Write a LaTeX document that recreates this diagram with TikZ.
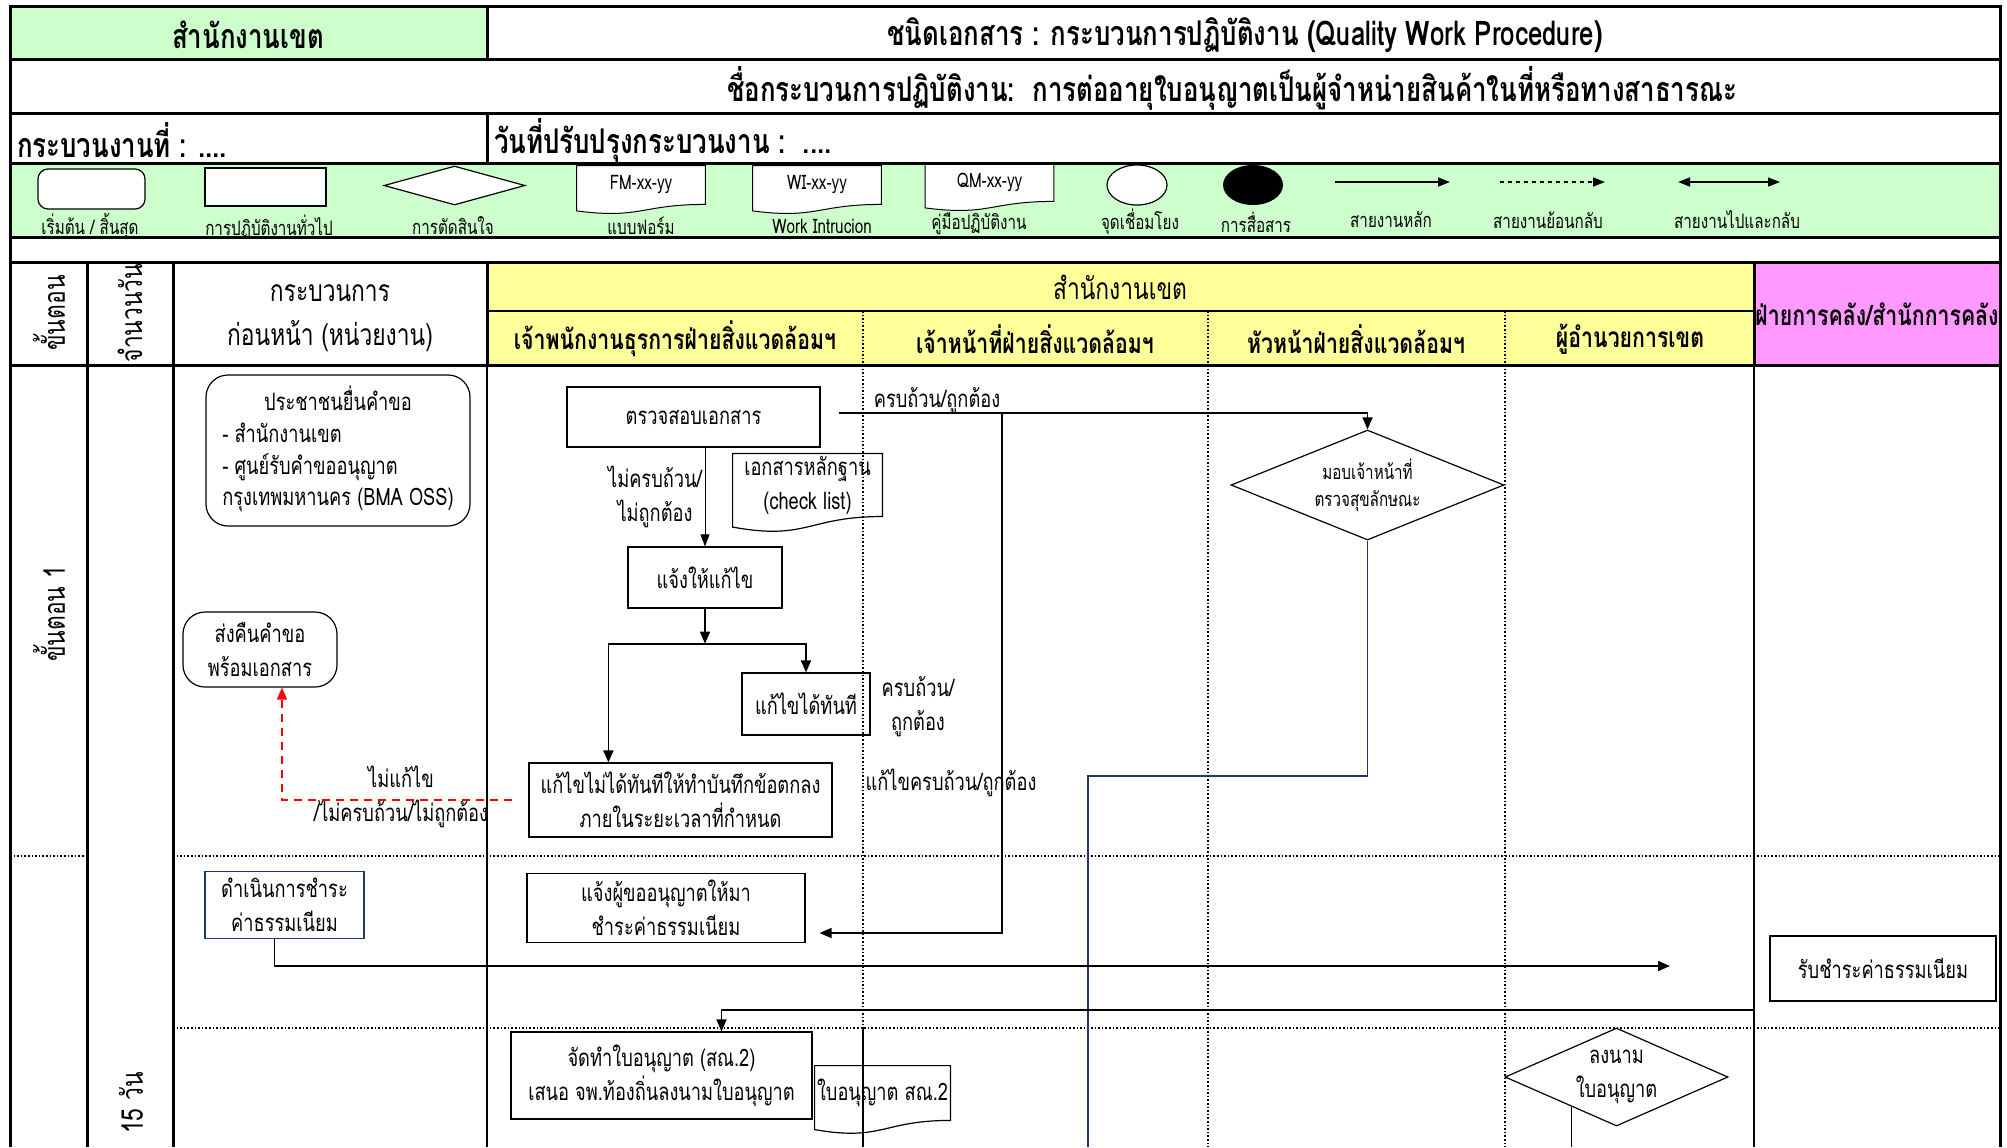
\documentclass[tikz,border=0pt]{standalone}
\usepackage{fontspec}
\setmainfont[Script=Thai,FakeStretch=0.76]{Loma}
\usetikzlibrary{arrows.meta,calc,backgrounds,shapes.geometric,positioning}

\definecolor{legendgreen}{RGB}{204,255,204}
\definecolor{headyellow}{RGB}{255,255,153}
\definecolor{headpink}{RGB}{255,153,255}
\definecolor{navyline}{RGB}{31,56,100}

\begin{document}
\begin{tikzpicture}[
    x=0.5pt, y=-0.5pt,
    frame/.style={line width=1.5pt},
    midrule/.style={line width=1pt},
    thinrule/.style={line width=0.6pt},
    dotrule/.style={line width=0.8pt, densely dotted},
    titlefont/.style={font=\fontsize{17}{21}\selectfont\bfseries},
    headtext/.style={font=\fontsize{15}{22}\selectfont, align=center},
    subhead/.style={font=\fontsize{14}{18}\selectfont\bfseries},
    legendtext/.style={font=\fontsize{10}{12}\selectfont},
    box/.style={rectangle, draw, line width=0.6pt, align=center, font=\fontsize{12}{17}\selectfont},
    startbox/.style={box, rounded corners=11pt},
    decision/.style={diamond, draw, line width=0.6pt, align=center, inner sep=0pt, shape aspect=2.4, font=\fontsize{10}{13.5}\selectfont},
    docbox/.style={rectangle, align=center, inner sep=1pt, font=\fontsize{12}{17}\selectfont},
    note/.style={align=center, font=\fontsize{12}{17}\selectfont},
    arrow/.style={-{Triangle[length=6pt,width=5pt]}, line width=0.9pt},
    thinarrow/.style={-{Triangle[length=6pt,width=4.5pt]}, line width=0.5pt},
    backarrow/.style={-{Triangle[length=6pt,width=5pt]}, line width=0.8pt, red, dash pattern=on 4pt off 3pt},
    navy/.style={draw=navyline, line width=0.7pt}
]
\useasboundingbox (0,0) rectangle (2007,1147);

% fills
\begin{scope}[on background layer]
    \fill[legendgreen] (10,6) rectangle (487,59);
    \fill[legendgreen] (10,163) rectangle (2000,237);
    \fill[headyellow] (487,262) rectangle (1754,365);
    \fill[headpink] (1754,262) rectangle (2000,365);
\end{scope}

% header rows
\draw[frame] (10,1147) -- (10,6) -- (2000,6) -- (2000,1147);
\foreach \y in {59,113,163,237,262,365}
    \draw[frame] (10,\y) -- (2000,\y);
\draw[frame] (487,6) -- (487,59);
\draw[frame] (487,113) -- (487,163);

\node[titlefont] (office) at (248,35) {สำนักงานเขต};
\node[titlefont] (doctype) at (1245,35) {ชนิดเอกสาร : กระบวนการปฏิบัติงาน (Quality Work Procedure)};
\node[titlefont] (procname) at (1232,88) {ชื่อกระบวนการปฏิบัติงาน:\ \ การต่ออายุใบอนุญาตเป็นผู้จำหน่ายสินค้าในที่หรือทางสาธารณะ};
\node[titlefont, anchor=west] (procno) at (10,140) {กระบวนงานที่ : ....};
\node[titlefont, anchor=west] (revdate) at (487,140) {วันที่ปรับปรุงกระบวนงาน :\ \ ....};

% legend
\node[box, fill=white, rounded corners=5pt, minimum width=53.5pt, minimum height=20pt] (lgstart) at (91.5,189) {};
\node[box, fill=white, minimum width=60.5pt, minimum height=19pt] (lgproc) at (265.5,187) {};
\node[decision, fill=white, minimum width=70.5pt, minimum height=19.5pt] (lgdec) at (454.5,185.5) {};
\node[docbox, minimum width=64pt, minimum height=19pt, font=\fontsize{10}{12}\selectfont] (fm) at (641,185) {FM-xx-yy};
\node[docbox, minimum width=64pt, minimum height=19pt, font=\fontsize{10}{12}\selectfont] (wi) at (817,185) {WI-xx-yy};
\node[docbox, minimum width=64pt, minimum height=19pt, font=\fontsize{10}{12}\selectfont] (qm) at (989.5,182) {QM-xx-yy};
\node[ellipse, draw, fill=white, line width=0.6pt, minimum width=30pt, minimum height=20pt] (lglink) at (1137,185) {};
\node[ellipse, fill=black, minimum width=30pt, minimum height=20pt] (lgcomm) at (1253,185) {};
\coordinate (lga1) at (1335,182);
\coordinate (lga2) at (1450,182);
\coordinate (lgb1) at (1500,182);
\coordinate (lgb2) at (1605,182);
\coordinate (lgc1) at (1678,182);
\coordinate (lgc2) at (1780,182);
\draw[thinarrow, line width=0.8pt] (lga1) -- (lga2);
\draw[thinarrow, line width=0.8pt, dash pattern=on 2pt off 2pt] (lgb1) -- (lgb2);
\draw[{Triangle[length=6pt,width=4.5pt]}-{Triangle[length=6pt,width=4.5pt]}, line width=0.8pt] (lgc1) -- (lgc2);
\foreach \x/\y/\t [count=\i] in {90/227/{เริ่มต้น / สิ้นสุด}, 269/227/การปฏิบัติงานทั่วไป, 453/226/การตัดสินใจ,
    641/226/แบบฟอร์ม, 822/226/Work Intrucion, 979/224/คู่มือปฏิบัติงาน, 1140/222/จุดเชื่อมโยง,
    1256/222/การสื่อสาร, 1391/220/สายงานหลัก, 1548/220/สายงานย้อนกลับ, 1737/220/สายงานไปและกลับ}
    \node[legendtext] (lbl\i) at (\x,\y) {\t};

% table head
\draw[frame] (87,262) -- (87,1147);
\draw[frame] (173,262) -- (173,1147);
\draw[frame] (487,262) -- (487,365);
\draw[thinrule] (487,365) -- (487,1147);
\draw[frame] (1754,262) -- (1754,365);
\draw[midrule] (1754,365) -- (1754,1147);
\draw[thinrule] (487,311) -- (1754,311);
\draw[dotrule] (863,311) -- (863,1028);
\draw[thinrule] (863,1028) -- (863,1147);
\foreach \x in {1208,1505}
    \draw[dotrule] (\x,311) -- (\x,1147);
\draw[dotrule] (10,856) -- (87,856);
\draw[dotrule] (173,856) -- (2000,856);
\draw[dotrule] (173,1028) -- (2000,1028);

\node[headtext, rotate=90] (stephead) at (49,313) {ขั้นตอน};
\node[headtext, rotate=90] (dayhead) at (130,313) {จำนวนวัน};
\node[headtext] (prevhead) at (330,318) {กระบวนการ\\ก่อนหน้า (หน่วยงาน)};
\node[headtext] (zonehead) at (1120,287) {สำนักงานเขต};
\node[subhead] (lane1) at (675,339) {เจ้าพนักงานธุรการฝ่ายสิ่งแวดล้อมฯ};
\node[subhead] (lane2) at (1035,339) {เจ้าหน้าที่ฝ่ายสิ่งแวดล้อมฯ};
\node[subhead] (lane3) at (1356,339) {หัวหน้าฝ่ายสิ่งแวดล้อมฯ};
\node[subhead] (lane4) at (1630,339) {ผู้อำนวยการเขต};
\node[subhead] (finhead) at (1877,314) {ฝ่ายการคลัง/สำนักการคลัง};

\node[headtext, rotate=90] (step1) at (49,614) {ขั้นตอน 1};
\node[headtext, rotate=90] (days) at (131,1103) {15 วัน};

% step 1
\node[startbox, minimum width=132pt, minimum height=75.5pt] (applicant) at (338,450.5)
    {\renewcommand{\arraystretch}{0.94}\begin{tabular}{@{}l@{}}\multicolumn{1}{@{}c@{}}{ประชาชนยื่นคำขอ}\\- สำนักงานเขต\\- ศูนย์รับคำขออนุญาต\\กรุงเทพมหานคร (BMA OSS)\end{tabular}};
\node[startbox, minimum width=77pt, minimum height=37.5pt] (back) at (260,649.5) {ส่งคืนคำขอ\\พร้อมเอกสาร};
\node[box, minimum width=126.5pt, minimum height=30pt] (check) at (693.5,417) {ตรวจสอบเอกสาร};
\node[docbox, minimum width=74.5pt, minimum height=31pt] (chk) at (807.5,485) {เอกสารหลักฐาน\\(check list)};
\node[box, minimum width=77pt, minimum height=30.5pt] (notify) at (705,577.5) {แจ้งให้แก้ไข};
\node[box, minimum width=64pt, minimum height=31pt] (fixnow) at (806,704) {แก้ไขได้ทันที};
\node[box, minimum width=151.5pt, minimum height=37pt] (memo) at (680.5,800) {แก้ไขไม่ได้ทันทีให้ทำบันทึกข้อตกลง\\ภายในระยะเวลาที่กำหนด};
\node[decision, minimum width=136.5pt, minimum height=55pt] (assign) at (1367.5,485) {มอบเจ้าหน้าที่\\ตรวจสุขลักษณะ};

\node[note] (notok) at (655,497) {ไม่ครบถ้วน/\\ไม่ถูกต้อง};
\node[note] (okcheck) at (937,401) {ครบถ้วน/ถูกต้อง};
\node[note] (okfix) at (918,707) {ครบถ้วน/\\ถูกต้อง};
\node[note] (okmemo) at (951,783) {แก้ไขครบถ้วน/ถูกต้อง};
\node[note] (nofix) at (401,797) {ไม่แก้ไข\\/ไม่ครบถ้วน/ไม่ถูกต้อง};

\coordinate (split) at ($(notify.south)+(0,35)$);
\coordinate (okjoin) at (1002,413);
\coordinate (navybend) at (1088,776);
\coordinate (navyend) at (1088,1147);

\draw[thinarrow] (check.south -| notify.north) -- (notify.north);
\draw[arrow] (notify.south) -- (split);
\draw[arrow] (split) -| (fixnow.north);
\draw[arrow] (split) -| ([xshift=40pt]memo.north west);
\draw[backarrow] ([xshift=-8pt]memo.west) -| ([xshift=11pt]back.south);
\draw[arrow] ([xshift=9pt,yshift=2pt]check.east) -| (assign.north);
\draw[navy] (assign.south) |- (navybend) -- (navyend);

% step 2
\node[box, draw=navyline, minimum width=79.5pt, minimum height=28pt] (pay) at (284.5,905) {ดำเนินการชำระ\\ค่าธรรมเนียม};
\node[box, minimum width=139pt, minimum height=34pt] (inform) at (666,908) {แจ้งผู้ขออนุญาตให้มา\\ชำระค่าธรรมเนียม};
\node[box, minimum width=113pt, minimum height=32.5pt] (receive) at (1883,968.5) {รับชำระค่าธรรมเนียม};

\coordinate (payend) at (1670,966);
\coordinate (recvout) at (1754,998);

\draw[arrow] (okjoin) |- ([xshift=7pt,yshift=-12.5pt]inform.east);
\draw[arrow] ([xshift=-5pt]pay.south) |- (payend);

% step 3
\node[box, minimum width=150.5pt, minimum height=43.5pt] (license) at (661.5,1075.5) {จัดทำใบอนุญาต (สณ.2)\\เสนอ จพ.ท้องถิ่นลงนามใบอนุญาต};
\node[docbox, minimum width=67.5pt, minimum height=27pt] (lic) at (882.5,1093) {ใบอนุญาต สณ.2};
\node[decision, font=\fontsize{12}{17}\selectfont, minimum width=111.5pt, minimum height=49pt] (sign) at (1616.5,1077) {ลงนาม\\ใบอนุญาต};

\draw[arrow] (recvout) -- ++(0,12) -| ([xshift=30pt]license.north);
\path ($(sign.south west)!0.2!(sign.south)$) coordinate (signfoot);
\draw[thinrule] (signfoot) -- (signfoot |- navyend);

% document outlines
\begin{scope}[on background layer]
    \foreach \d in {fm,wi,qm}
        \draw[fill=white, line width=0.5pt] (\d.north west) -- (\d.north east) -- (\d.south east)
            .. controls (\d.south) and ($(\d.north)!1.384!(\d.south)$)
            .. ($(\d.north west)!1.1675!(\d.south west)$) -- cycle;
    \foreach \d in {chk,lic}
        \draw[line width=0.6pt] (\d.north west) -- (\d.north east) -- (\d.south east)
            .. controls (\d.south) and ($(\d.north)!1.384!(\d.south)$)
            .. ($(\d.north west)!1.1675!(\d.south west)$) -- cycle;
\end{scope}
\end{tikzpicture}
\end{document}
